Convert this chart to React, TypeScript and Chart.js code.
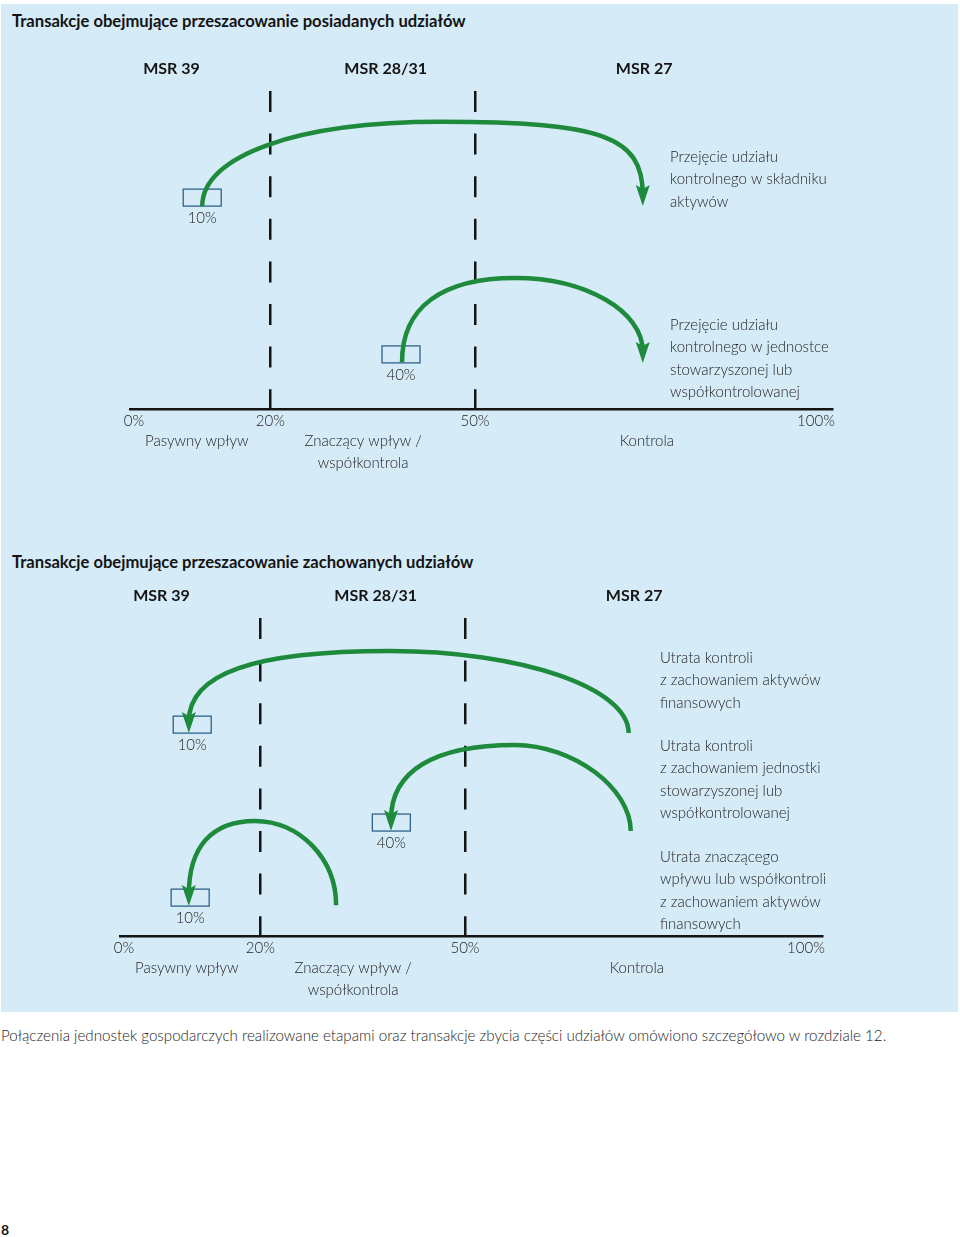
import React, { useEffect, useRef } from 'react';
import { Chart, registerables } from 'chart.js';
Chart.register(...registerables);

// ---------- shared axis data ----------
const AXIS_MIN = -0.59;
const AXIS_MAX = 102.35;
const tickValues = [0, 20, 50, 100];
const dividerValues = [20, 50];
const regionPos = [9.2, 33.6, 75.2];
const regionLabels = [['Pasywny wpływ'], ['Znaczący wpływ /', 'współkontrola'], ['Kontrola']];
const msrPos = [5.5, 36.9, 74.8];
const msrLabels = ['MSR 39', 'MSR 28/31', 'MSR 27'];
const noteX = 78.6;

// ---------- top panel ----------
const title1 = 'Transakcje obejmujące przeszacowanie posiadanych udziałów';
const box1X = [10, 39.15];
const box1Y = [63.8, 14.5];
const box1Pct = [10, 40];
const arc1Tail = [[10, 63.8], [39.3, 14.8]];
const arc1Peak = [[44.9, 90.3], [55.9, 41.2]];
const arc1Head = [[74.6, 63.8], [74.6, 14.5]];
const note1Y = [79.2, 26.4];
const note1Text = [
  ['Przejęcie udziału', 'kontrolnego w składniku', 'aktywów'],
  ['Przejęcie udziału', 'kontrolnego w jednostce', 'stowarzyszonej lub', 'współkontrolowanej'],
];

// ---------- bottom panel ----------
const title2 = 'Transakcje obejmujące przeszacowanie zachowanych udziałów';
const box2X = [10, 39.2, 9.7];
const box2Y = [63.8, 33.0, 9.4];
const box2Pct = [10, 40, 10];
const arc2Tail = [[74.0, 63.8], [74.3, 33.0], [31.1, 9.7]];
const arc2Peak = [[39.0, 89.6], [57.3, 60.1], [19.2, 36.2]];
const arc2Head = [[9.5, 63.8], [39.15, 33.0], [9.5, 9.4]];
const note2Y = [87.4, 59.7, 24.8];
const note2Text = [
  ['Utrata kontroli', 'z zachowaniem aktywów', 'finansowych'],
  ['Utrata kontroli', 'z zachowaniem jednostki', 'stowarzyszonej lub', 'współkontrolowanej'],
  ['Utrata znaczącego', 'wpływu lub współkontroli', 'z zachowaniem aktywów', 'finansowych'],
];

const footnote =
  'Połączenia jednostek gospodarczych realizowane etapami oraz transakcje zbycia części udziałów omówiono szczegółowo w rozdziale 12.';
const pageNumber = '8';

// ---------- styles ----------
const FONT = 'Lato, "Open Sans", sans-serif';
const BG = '#d5ebf7';
const GREEN = '#1e8a3b';
const BOXC = '#2f6189';
const INK = '#1e1e1e';
const DARK = '#141414';
const BOX_W = 38;
const BOX_H = 17;
const ARROW_L = 21;
const ARROW_W = 7;
const NOTE_LH = 22.5;
const bend1 = [[0.6, 0.8], [0.65, 0.55]];
const bend2 = [[0.55, 0.68], [0.5, 0.65], [0.55, 0.65]];

type PanelCfg = {
  top: number;
  padLeft: number;
  padRight: number;
  boxX: number[];
  boxY: number[];
  boxPct: number[];
  tail: number[][];
  peak: number[][];
  head: number[][];
  bend: number[][];
  noteY: number[];
  notes: string[][];
};

function makePlugin(cfg: PanelCfg) {
  return {
    id: 'diagram',
    afterDraw(chart: any) {
      const ctx = chart.ctx as CanvasRenderingContext2D;
      const xs = chart.scales.x;
      const ys = chart.scales.y;
      const px = (v: number) => xs.getPixelForValue(v);
      const py = (v: number) => ys.getPixelForValue(v);
      ctx.save();
      // boxes + labels
      cfg.boxX.forEach((bx, i) => {
        const cx = px(bx);
        const by = py(cfg.boxY[i]);
        ctx.strokeStyle = BOXC;
        ctx.lineWidth = 1.3;
        ctx.strokeRect(cx - BOX_W / 2, by - BOX_H, BOX_W, BOX_H);
        ctx.fillStyle = INK;
        ctx.font = `300 15px ${FONT}`;
        ctx.textAlign = 'center';
        ctx.textBaseline = 'middle';
        ctx.fillText(cfg.boxPct[i] + '%', cx, by + 12.5);
      });
      // arcs
      cfg.tail.forEach((t, i) => {
        const x0 = px(t[0]);
        const y0 = py(t[1]);
        const xp = px(cfg.peak[i][0]);
        const yp = py(cfg.peak[i][1]);
        const x1 = px(cfg.head[i][0]);
        const tipY = py(cfg.head[i][1]);
        const y1 = tipY - ARROW_L * 0.55;
        const [kt, kh] = cfg.bend[i];
        ctx.beginPath();
        ctx.moveTo(x0, y0);
        ctx.bezierCurveTo(x0, y0 - kt * (y0 - yp), xp - kt * (xp - x0), yp, xp, yp);
        ctx.bezierCurveTo(xp + kh * (x1 - xp), yp, x1, y1 - kh * (y1 - yp), x1, y1);
        ctx.strokeStyle = GREEN;
        ctx.lineWidth = 4.5;
        ctx.lineCap = 'butt';
        ctx.stroke();
        ctx.beginPath();
        ctx.moveTo(x1, tipY);
        ctx.lineTo(x1 - ARROW_W, tipY - ARROW_L);
        ctx.lineTo(x1, tipY - ARROW_L + 4);
        ctx.lineTo(x1 + ARROW_W, tipY - ARROW_L);
        ctx.closePath();
        ctx.fillStyle = GREEN;
        ctx.fill();
      });
      // notes
      ctx.fillStyle = INK;
      ctx.font = `300 15px ${FONT}`;
      ctx.textAlign = 'left';
      ctx.textBaseline = 'middle';
      cfg.noteY.forEach((ny, i) => {
        const x = px(noteX);
        const y = py(ny);
        cfg.notes[i].forEach((line, j) => ctx.fillText(line, x, y + j * NOTE_LH));
      });
      ctx.restore();
    },
  };
}

function Panel({ cfg }: { cfg: PanelCfg }) {
  const ref = useRef<HTMLCanvasElement>(null);
  useEffect(() => {
    if (!ref.current) return;
    const chart = new Chart(ref.current, {
      type: 'scatter',
      data: { datasets: [] },
      options: {
        animation: false,
        responsive: false,
        events: [],
        layout: { padding: { left: cfg.padLeft, right: cfg.padRight, top: 0, bottom: 0 } },
        plugins: { legend: { display: false }, tooltip: { enabled: false } },
        scales: {
          msr: {
            type: 'linear',
            axis: 'x',
            position: 'top',
            min: AXIS_MIN,
            max: AXIS_MAX,
            afterBuildTicks: (s: any) => {
              s.ticks = msrPos.map((v) => ({ value: v }));
            },
            afterFit: (s: any) => {
              s.height = 51;
            },
            grid: { display: false, drawTicks: false },
            border: { display: false },
            ticks: {
              autoSkip: false,
              maxRotation: 0,
              minRotation: 0,
              padding: 13,
              color: DARK,
              font: { family: FONT, size: 16, weight: 'bold', lineHeight: 1.2 },
              callback: (_v: any, i: number) => msrLabels[i],
            },
          },
          x: {
            type: 'linear',
            position: 'bottom',
            weight: 1,
            min: AXIS_MIN,
            max: AXIS_MAX,
            afterBuildTicks: (s: any) => {
              s.ticks = tickValues.map((v) => ({ value: v }));
            },
            afterFit: (s: any) => {
              s.height = 21;
            },
            grid: {
              display: true,
              drawTicks: false,
              lineWidth: 2.5,
              color: (c: any) =>
                c.tick && dividerValues.includes(c.tick.value) ? DARK : 'rgba(0,0,0,0)',
            },
            border: { display: true, color: DARK, width: 2.5, dash: [21, 21.6] },
            ticks: {
              autoSkip: false,
              maxRotation: 0,
              minRotation: 0,
              padding: 3,
              color: INK,
              font: { family: FONT, size: 15, weight: '300', lineHeight: 1.2 },
              callback: (v: any) => v + '%',
            },
          },
          reg: {
            type: 'linear',
            axis: 'x',
            position: 'bottom',
            weight: 2,
            min: AXIS_MIN,
            max: AXIS_MAX,
            afterBuildTicks: (s: any) => {
              s.ticks = regionPos.map((v) => ({ value: v }));
            },
            afterFit: (s: any) => {
              s.height = 60;
            },
            grid: { display: false, drawTicks: false },
            border: { display: false },
            ticks: {
              autoSkip: false,
              maxRotation: 0,
              minRotation: 0,
              padding: 0,
              color: INK,
              font: { family: FONT, size: 15, weight: '300', lineHeight: 22 / 15 },
              callback: (_v: any, i: number) => regionLabels[i],
            },
          },
          y: { type: 'linear', display: false, min: 0, max: 100 },
        },
      } as any,
      plugins: [makePlugin(cfg)],
    });
    return () => chart.destroy();
  }, []);
  return (
    <canvas
      ref={ref}
      width={960}
      height={450}
      style={{ position: 'absolute', left: 0, top: cfg.top, width: 960, height: 450 }}
    />
  );
}

const topCfg: PanelCfg = {
  top: 40,
  padLeft: 130,
  padRight: 128,
  boxX: box1X,
  boxY: box1Y,
  boxPct: box1Pct,
  tail: arc1Tail,
  peak: arc1Peak,
  head: arc1Head,
  bend: bend1,
  noteY: note1Y,
  notes: note1Text,
};

const bottomCfg: PanelCfg = {
  top: 567,
  padLeft: 120,
  padRight: 138,
  boxX: box2X,
  boxY: box2Y,
  boxPct: box2Pct,
  tail: arc2Tail,
  peak: arc2Peak,
  head: arc2Head,
  bend: bend2,
  noteY: note2Y,
  notes: note2Text,
};

const titleStyle: React.CSSProperties = {
  position: 'absolute',
  left: 12,
  fontFamily: FONT,
  fontWeight: 700,
  fontSize: 16.6,
  lineHeight: '20px',
  color: DARK,
  whiteSpace: 'nowrap',
};

export default function App() {
  return (
    <div
      style={{
        position: 'absolute',
        left: 0,
        top: 0,
        width: 960,
        height: 1237,
        overflow: 'hidden',
        background: '#ffffff',
      }}
    >
      <div style={{ position: 'absolute', left: 1, top: 4, width: 957, height: 1008, background: BG }} />
      <div style={{ ...titleStyle, top: 11 }}>{title1}</div>
      <div style={{ ...titleStyle, top: 552 }}>{title2}</div>
      <Panel cfg={topCfg} />
      <Panel cfg={bottomCfg} />
      <div
        style={{
          position: 'absolute',
          left: 1,
          top: 1025,
          fontFamily: FONT,
          fontWeight: 300,
          fontSize: 15.15,
          lineHeight: '20px',
          color: INK,
          whiteSpace: 'nowrap',
        }}
      >
        {footnote}
      </div>
      <div
        style={{
          position: 'absolute',
          left: 1,
          top: 1221,
          fontFamily: FONT,
          fontWeight: 700,
          fontSize: 14,
          lineHeight: '18px',
          color: DARK,
        }}
      >
        {pageNumber}
      </div>
    </div>
  );
}
